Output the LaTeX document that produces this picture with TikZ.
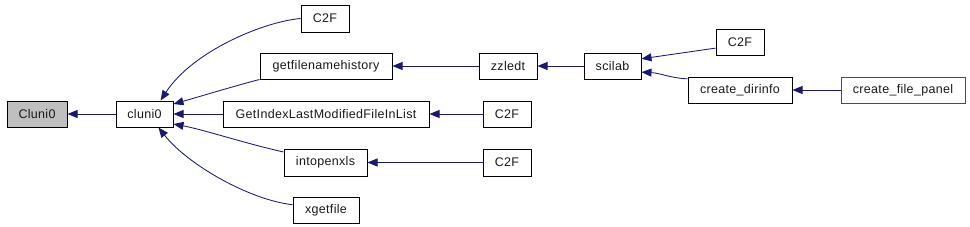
\documentclass[tikz,border=0pt]{standalone}
\usepackage{fontspec}
\setmainfont[LetterSpace=2.5]{Liberation Sans}
\usetikzlibrary{arrows.meta}
\definecolor{edgeblue}{HTML}{191970}
\tikzset{
  box/.style={draw=black, line width=1pt, fill=white, inner sep=0pt, font=\fontsize{12.5}{14}\selectfont, text=black!90},
  call/.style={draw=edgeblue, line width=0.85pt, -{Triangle[length=10pt,width=8pt]}},
}
\begin{document}
\begin{tikzpicture}[x=1pt,y=-1pt]
\useasboundingbox (0,0) rectangle (970,226);
\node[box, fill={rgb,255:red,191;green,191;blue,191}, minimum width=60pt, minimum height=26pt] (Cl) at (37,114) {Cluni0};
\node[box, minimum width=57pt, minimum height=26pt] (cl) at (144.5,114) {cluni0};
\node[box, minimum width=48pt, minimum height=27pt] (c2fa) at (325,18.5) {C2F};
\node[box, minimum width=132pt, minimum height=26pt] (gfh) at (326,66) {getfilenamehistory};
\node[box, minimum width=206pt, minimum height=26pt] (gil) at (326,114) {GetIndexLastModifiedFileInList};
\node[box, minimum width=83pt, minimum height=27pt] (iox) at (325.5,162.5) {intopenxls};
\node[box, minimum width=66pt, minimum height=26pt] (xgf) at (326,210) {xgetfile};
\node[box, minimum width=58pt, minimum height=26pt] (zzl) at (508,66) {zzledt};
\node[box, minimum width=57pt, minimum height=26pt] (sci) at (612.5,66) {scilab};
\node[box, minimum width=48pt, minimum height=26pt] (c2fb) at (507,114) {C2F};
\node[box, minimum width=48pt, minimum height=27pt] (c2fc) at (507,162.5) {C2F};
\node[box, minimum width=48pt, minimum height=26pt] (c2fd) at (740,42) {C2F};
\node[box, minimum width=104pt, minimum height=26pt] (cdi) at (740,90) {create\_dirinfo};
\node[box, draw=red, minimum width=124pt, minimum height=26pt] (cfp) at (903,90) {create\_file\_panel};
% edges
\draw[call] (cl.west) -- (Cl.east);
\draw[call] (c2fa.west) .. controls (262,22) and (192,52) .. (cl.40);
\draw[call] (gfh.south west) .. controls (238,85) and (205,95) .. (cl.19);
\draw[call] (gil.west) -- (cl.east);
\draw[call] (iox.166) .. controls (240,142) and (205,130) .. (cl.-19);
\draw[call] (xgf.171) .. controls (250,200) and (188,165) .. (cl.-44);
\draw[call] (zzl.west) -- (gfh.east);
\draw[call] (sci.west) -- (zzl.east);
\draw[call] (c2fd.194) -- (sci.14);
\draw[call] (cdi.168) .. controls (670,78) and (660,73) .. (sci.-12);
\draw[call] (cfp.west) -- (cdi.east);
\draw[call] (c2fb.west) -- (gil.east);
\draw[call] (c2fc.west) -- (iox.east);
\end{tikzpicture}
\end{document}
